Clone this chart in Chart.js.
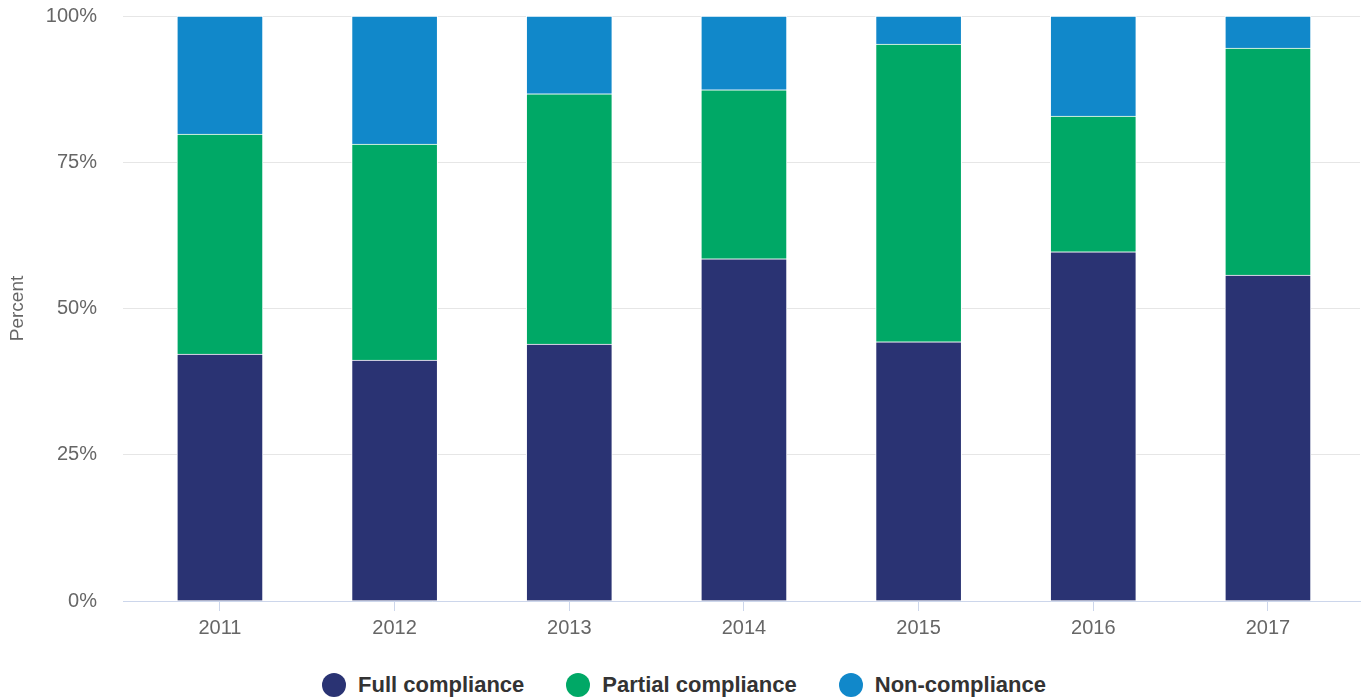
<!DOCTYPE html>
<html>
<head>
<meta charset="utf-8">
<script src="https://cdn.jsdelivr.net/npm/chart.js@4/dist/chart.umd.min.js"></script>
<style>
  body { margin: 0; background: #fff; }
  #wrap { position: relative; width: 1368px; height: 697px; }
  #box { position: absolute; left: 0; top: 0; width: 1368px; height: 650px; }
  #legend { position: absolute; left: 0; top: 672px; width: 1368px; display: flex; justify-content: center;
            font-family: "Liberation Sans", Arial, sans-serif; font-weight: bold; font-size: 22px; color: #333; }
  .item { display: flex; align-items: center; margin: 0 21px; }
  .dot { width: 24px; height: 24px; border-radius: 50%; margin-right: 12px; }
</style>
</head>
<body>
<div id="wrap">
  <div id="box"><canvas id="chart"></canvas></div>
  <div id="legend"></div>
</div>
<script>
const years = ["2011", "2012", "2013", "2014", "2015", "2016", "2017"];
const fullCompliance = [42.2, 41.2, 43.9, 58.5, 44.3, 59.7, 55.7];
const partialCompliance = [37.6, 36.9, 42.8, 28.9, 50.9, 23.2, 38.8];
const nonCompliance = [20.2, 21.9, 13.3, 12.6, 4.8, 17.1, 5.5];
const yTicks = [0, 25, 50, 75, 100];

const series = [
    {label: "Full compliance", values: fullCompliance, color: "#2a3373"},
    {label: "Partial compliance", values: partialCompliance, color: "#00a866"},
    {label: "Non-compliance", values: nonCompliance, color: "#1188ca"}
];

Chart.defaults.font.family = "'Liberation Sans', Arial, sans-serif";
Chart.defaults.color = "#666";

const ctx = document.getElementById("chart").getContext("2d");
new Chart(ctx, {
    type: 'bar',
    data: {
        datasets: series.map(s => ({
            label: s.label,
            data: s.values.map((v, i) => ({x: i, y: v})),
            backgroundColor: s.color,
            borderColor: "#fff",
            borderWidth: 1,
            barThickness: 86
        }))
    },
    options: {
        responsive: true,
        maintainAspectRatio: false,
        animation: false,
        layout: {padding: {top: 16, right: 8, left: 0, bottom: 0}},
        plugins: {legend: {display: false}, tooltip: {enabled: false}},
        scales: {
            x: {
                type: 'linear',
                stacked: true,
                offset: false,
                min: -0.555,
                max: 6.527,
                afterBuildTicks: scale => { scale.ticks = years.map((_, i) => ({value: i})); },
                afterFit: scale => { scale.height = 49; },
                ticks: {callback: v => years[v], font: {size: 20}, color: "#666", padding: 5, autoSkip: false, maxRotation: 0},
                grid: {offset: false, drawOnChartArea: false, drawTicks: true, tickLength: 10, color: "#ccd6eb"},
                border: {color: "#ccd6eb", width: 1}
            },
            y: {
                stacked: true,
                min: 0,
                max: 100,
                afterBuildTicks: scale => { scale.ticks = yTicks.map(v => ({value: v})); },
                afterFit: scale => { scale.width = 123; scale.paddingTop = 0; },
                ticks: {callback: v => v + "%", font: {size: 20}, color: "#666", padding: 26},
                grid: {color: "#e6e6e6", drawTicks: false},
                border: {display: false},
                title: {display: true, text: "Percent", font: {size: 19}, color: "#666", padding: {top: 6, bottom: 0}}
            }
        }
    }
});

const legend = document.getElementById("legend");
series.forEach(s => {
    legend.innerHTML += `<div class="item"><span class="dot" style="background:${s.color}"></span>${s.label}</div>`;
});
</script>
</body>
</html>
